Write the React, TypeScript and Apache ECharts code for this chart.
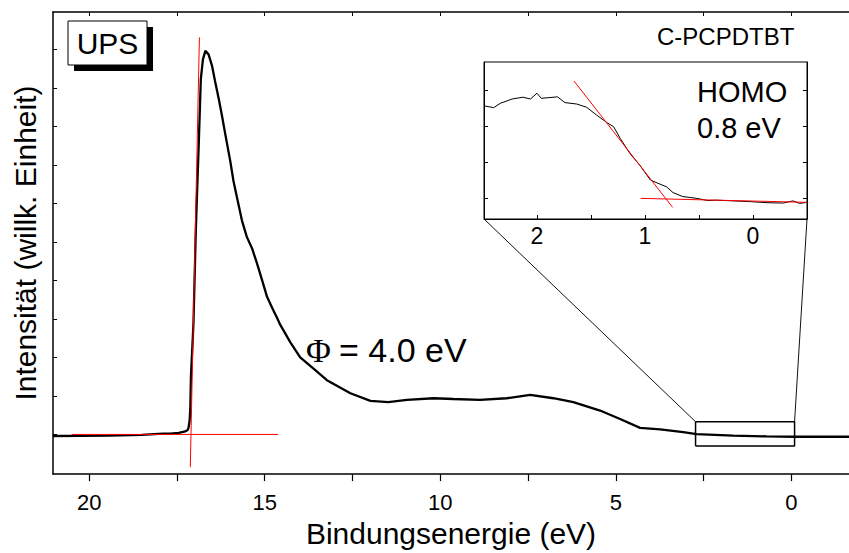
import React, { useEffect, useRef } from 'react';
import * as echarts from 'echarts';

// Main UPS spectrum (binding energy in eV, intensity in arbitrary units)
const energy = [21.03, 19.46, 18.5, 17.9, 17.69, 17.45, 17.29, 17.2, 17.17, 17.14, 17.12, 17.1, 17.03, 16.96, 16.88, 16.82, 16.76, 16.69, 16.6, 16.5, 16.41, 16.31, 16.22, 16.12, 15.98, 15.89, 15.79, 15.65, 15.51, 15.36, 15.22, 15.08, 14.94, 14.79, 14.65, 14.56, 14.27, 13.99, 13.61, 13.23, 12.56, 11.99, 11.48, 10.95, 10.19, 9.63, 8.87, 8.11, 7.44, 6.78, 6.21, 5.45, 4.88, 4.31, 3.74, 3.08, 2.7, 1.66, 0.71, -0.1, -1.64];
const intensity = [-0.04, -0.03, -0.01, 0.02, 0.02, 0.04, 0.07, 0.11, 0.17, 0.35, 0.68, 1.54, 2.87, 5.38, 7.52, 9.23, 9.74, 9.96, 9.87, 9.57, 9.15, 8.72, 8.29, 7.78, 7.09, 6.58, 6.15, 5.56, 5.13, 4.83, 4.44, 4.02, 3.59, 3.29, 3.03, 2.85, 2.39, 2.0, 1.71, 1.41, 1.07, 0.87, 0.84, 0.9, 0.94, 0.92, 0.9, 0.94, 1.03, 0.94, 0.84, 0.62, 0.4, 0.17, 0.13, 0.06, 0.01, -0.03, -0.05, -0.06, -0.06];

// Inset: HOMO region
const insetEnergy = [2.49, 2.4, 2.34, 2.23, 2.13, 2.06, 2.0, 1.96, 1.88, 1.81, 1.74, 1.63, 1.54, 1.45, 1.35, 1.29, 1.23, 1.14, 1.05, 0.95, 0.88, 0.8, 0.74, 0.65, 0.52, 0.42, 0.34, 0.18, 0.03, -0.13, -0.28, -0.37, -0.43, -0.5];
const insetIntensity = [2.56, 2.51, 2.63, 2.75, 2.8, 2.75, 2.91, 2.77, 2.79, 2.81, 2.65, 2.61, 2.52, 2.31, 2.09, 1.98, 1.66, 1.24, 0.92, 0.5, 0.41, 0.31, 0.15, 0.04, -0.01, -0.07, -0.06, -0.08, -0.1, -0.13, -0.14, -0.08, -0.15, -0.12];

// Fit lines
const cutoffBaseE = [20.5, 14.62];
const cutoffBaseI = [0, 0];
const cutoffEdgeE = [16.86, 17.12];
const cutoffEdgeI = [10.31, -0.85];
const homoEdgeE = [1.657, 0.744];
const homoEdgeI = [3.25, -0.26];
const homoBaseE = [1.04, -0.5];
const homoBaseI = [-0.01, -0.12];

// Zoomed region marker (energy range, intensity range)
const zoomBoxE = [2.73, -0.09];
const zoomBoxI = [-0.3, 0.33];

// Axes
const mainRange = [-1.64, 21.03];
const mainIntRange = [-1.03, 10.97];
const mainTicks = [0, 2.5, 5, 7.5, 10, 12.5, 15, 17.5, 20];
const mainLabels = [0, 5, 10, 15, 20];
const mainYTicks = [0, 1, 2, 3, 4, 5, 6, 7, 8, 9, 10];
const insetRange = [-0.5, 2.49];
const insetIntRange = [-0.583, 3.778];
const insetTicks = [0, 0.5, 1, 1.5, 2];
const insetLabels = [0, 1, 2];
const insetYTicks = [0, 1, 2, 3];

const FONT = '"Liberation Sans", Arial, sans-serif';

const pairs = (xs: number[], ys: number[]) => xs.map((x, i) => [x, ys[i]]);

export default function App() {
  const ref = useRef<HTMLDivElement>(null);
  useEffect(() => {
    if (!ref.current) return;
    const chart = echarts.init(ref.current, undefined, { renderer: 'svg' });
    const black = '#000';
    const red = '#ff0000';
    const boxData = [
      [zoomBoxE[0], zoomBoxI[0]],
      [zoomBoxE[0], zoomBoxI[1]],
      [zoomBoxE[1], zoomBoxI[1]],
      [zoomBoxE[1], zoomBoxI[0]],
      [zoomBoxE[0], zoomBoxI[0]],
    ];
    chart.setOption({
      animation: false,
      backgroundColor: '#fff',
      grid: [
        { left: 53, top: 12, right: 0, bottom: 73, show: false },
        { left: 484, top: 62, width: 323, height: 157, show: true, backgroundColor: '#fff', borderColor: black, borderWidth: 1 },
      ],
      xAxis: [
        {
          gridIndex: 0, type: 'value', min: mainRange[0], max: mainRange[1], inverse: true, position: 'bottom',
          axisLine: { onZero: false, lineStyle: { color: black, width: 1.5 } },
          axisTick: { inside: false, length: 7, customValues: mainTicks, lineStyle: { color: black, width: 1.2 } },
          axisLabel: { customValues: mainLabels, margin: 17, fontSize: 22, color: black, fontFamily: FONT },
          splitLine: { show: false },
          name: 'Bindungsenergie (eV)', nameLocation: 'middle', nameGap: 37,
          nameTextStyle: { fontSize: 30, color: black, fontFamily: FONT },
        },
        {
          gridIndex: 0, type: 'value', min: mainRange[0], max: mainRange[1], inverse: true, position: 'top',
          axisLine: { onZero: false, lineStyle: { color: black, width: 1.5 } },
          axisTick: { inside: true, length: 4, customValues: mainTicks, lineStyle: { color: black } },
          axisLabel: { show: false },
          splitLine: { show: false },
        },
        {
          gridIndex: 1, type: 'value', min: insetRange[0], max: insetRange[1], inverse: true, position: 'bottom',
          axisLine: { onZero: false, lineStyle: { color: black, width: 1 } },
          axisTick: { inside: true, length: 4, customValues: insetTicks, lineStyle: { color: black } },
          axisLabel: { customValues: insetLabels, margin: 5, fontSize: 23, color: black, fontFamily: FONT },
          splitLine: { show: false },
        },
      ],
      yAxis: [
        {
          gridIndex: 0, type: 'value', min: mainIntRange[0], max: mainIntRange[1], position: 'left',
          axisLine: { show: true, onZero: false, lineStyle: { color: black, width: 1.5 } },
          axisTick: { show: true, inside: true, length: 4, customValues: mainYTicks, lineStyle: { color: black } },
          axisLabel: { show: false },
          splitLine: { show: false },
          name: 'Intensität (willk. Einheit)', nameLocation: 'middle', nameRotate: 90, nameGap: 13,
          nameTextStyle: { fontSize: 30, color: black, fontFamily: FONT },
        },
        {
          gridIndex: 1, type: 'value', min: insetIntRange[0], max: insetIntRange[1], position: 'left',
          axisLine: { show: true, onZero: false, lineStyle: { color: black, width: 1 } },
          axisTick: { show: true, inside: true, length: 4, customValues: insetYTicks, lineStyle: { color: black } },
          axisLabel: { show: false },
          splitLine: { show: false },
        },
        {
          gridIndex: 1, type: 'value', min: insetIntRange[0], max: insetIntRange[1], position: 'right',
          axisLine: { show: true, onZero: false, lineStyle: { color: black, width: 1 } },
          axisTick: { show: true, inside: true, length: 4, customValues: insetYTicks, lineStyle: { color: black } },
          axisLabel: { show: false },
          splitLine: { show: false },
        },
      ],
      series: [
        { type: 'line', xAxisIndex: 0, yAxisIndex: 0, data: pairs(energy, intensity), showSymbol: false, symbol: 'none', lineStyle: { color: black, width: 2.3 }, z: 2 },
        { type: 'line', xAxisIndex: 0, yAxisIndex: 0, data: pairs(cutoffBaseE, cutoffBaseI), symbol: 'none', lineStyle: { color: red, width: 1 }, z: 3 },
        { type: 'line', xAxisIndex: 0, yAxisIndex: 0, data: pairs(cutoffEdgeE, cutoffEdgeI), symbol: 'none', lineStyle: { color: red, width: 1 }, z: 3 },
        { type: 'line', xAxisIndex: 0, yAxisIndex: 0, data: boxData, symbol: 'none', lineStyle: { color: black, width: 1.5 }, z: 3 },
        { type: 'line', xAxisIndex: 2, yAxisIndex: 1, data: pairs(insetEnergy, insetIntensity), symbol: 'none', lineStyle: { color: black, width: 1 }, z: 4 },
        { type: 'line', xAxisIndex: 2, yAxisIndex: 1, data: pairs(homoEdgeE, homoEdgeI), symbol: 'none', lineStyle: { color: red, width: 1 }, z: 5 },
        { type: 'line', xAxisIndex: 2, yAxisIndex: 1, data: pairs(homoBaseE, homoBaseI), symbol: 'none', lineStyle: { color: red, width: 1 }, z: 5 },
      ],
    });

    const p1 = chart.convertToPixel({ seriesIndex: 3 }, [zoomBoxE[0], zoomBoxI[1]]) as number[];
    const p2 = chart.convertToPixel({ seriesIndex: 3 }, [zoomBoxE[1], zoomBoxI[1]]) as number[];
    const q1 = chart.convertToPixel({ seriesIndex: 4 }, [insetRange[1], insetIntRange[0]]) as number[];
    const q2 = chart.convertToPixel({ seriesIndex: 4 }, [insetRange[0], insetIntRange[0]]) as number[];

    chart.setOption({
      graphic: [
        { type: 'line', shape: { x1: p1[0], y1: p1[1], x2: q1[0], y2: q1[1] }, style: { stroke: '#111', lineWidth: 1 }, z: 10 },
        { type: 'line', shape: { x1: p2[0], y1: p2[1], x2: q2[0], y2: q2[1] }, style: { stroke: '#111', lineWidth: 1 }, z: 10 },
        { type: 'rect', shape: { x: 74, y: 27, width: 79, height: 44 }, style: { fill: '#000' }, z: 10 },
        { type: 'rect', shape: { x: 68, y: 21, width: 79, height: 44 }, style: { fill: '#fff', stroke: '#000', lineWidth: 1 }, z: 11 },
        { type: 'text', x: 107.5, y: 43, z: 12, style: { text: 'UPS', fontSize: 30, fontFamily: FONT, fill: '#000', align: 'center', verticalAlign: 'middle', textAlign: 'center', textVerticalAlign: 'middle' } },
        { type: 'text', x: 657, y: 36, z: 12, style: { text: 'C-PCPDTBT', fontSize: 24, fontFamily: FONT, fill: '#000', align: 'left', verticalAlign: 'middle', textAlign: 'left', textVerticalAlign: 'middle' } },
        { type: 'text', x: 697, y: 91.5, z: 12, style: { text: 'HOMO', fontSize: 29, fontFamily: FONT, fill: '#000', align: 'left', verticalAlign: 'middle', textAlign: 'left', textVerticalAlign: 'middle' } },
        { type: 'text', x: 697, y: 128, z: 12, style: { text: '0.8 eV', fontSize: 29, fontFamily: FONT, fill: '#000', align: 'left', verticalAlign: 'middle', textAlign: 'left', textVerticalAlign: 'middle' } },
        { type: 'text', x: 306, y: 350, z: 12, style: { text: 'Φ', fontSize: 34, fontFamily: '"Liberation Serif", "Times New Roman", serif', fill: '#000', align: 'left', verticalAlign: 'middle', textAlign: 'left', textVerticalAlign: 'middle' } },
        { type: 'text', x: 339, y: 350, z: 12, style: { text: '= 4.0 eV', fontSize: 34, fontFamily: FONT, fill: '#000', align: 'left', verticalAlign: 'middle', textAlign: 'left', textVerticalAlign: 'middle' } },
      ],
    });

    return () => chart.dispose();
  }, []);
  return <div ref={ref} style={{ position: 'absolute', left: 0, top: 0, width: 849, height: 553 }} />;
}
